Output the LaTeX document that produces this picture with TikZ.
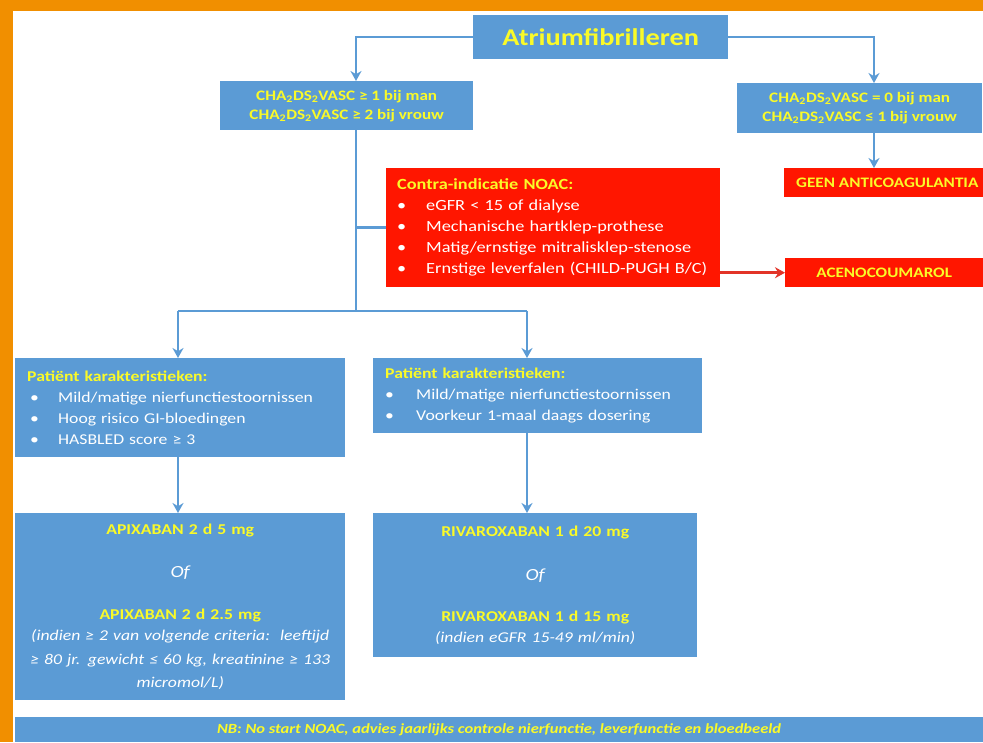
\documentclass[tikz,border=0pt]{standalone}
\usepackage{fontspec}
\setmainfont{Carlito}[FakeStretch=1.18]
\usetikzlibrary{positioning,arrows.meta}
\definecolor{FlowBlue}{RGB}{91,155,213}
\definecolor{FlowRed}{RGB}{255,22,0}
\definecolor{ArrowRed}{RGB}{226,52,40}
\definecolor{FlowYellow}{RGB}{250,250,40}
\definecolor{FrameOrange}{RGB}{241,143,0}
\newcommand{\bul}[2][29pt]{\makebox[#1][l]{\textbullet}#2}
\newcommand{\yel}[1]{{\color{FlowYellow}\bfseries #1}}
\newcommand{\ofword}{{\fontsize{17}{21}\itshape Of}}

\begin{document}
\begin{tikzpicture}[x=1pt,y=-1pt,
bx/.style={anchor=north west,fill=FlowBlue,inner xsep=12pt,inner ysep=0pt,text=white,font=\fontsize{15}{21}\selectfont},
rbx/.style={bx,fill=FlowRed},
ttl/.style={font=\fontsize{14.5}{19}\bfseries,text=FlowYellow,align=center},
con/.style={draw=FlowBlue,line width=2.5pt,-{Stealth[length=10pt,width=11pt]}},
ln/.style={draw=FlowBlue,line width=2.5pt}
]
\useasboundingbox (0,0) rectangle (983,742);
% frame
\fill[FrameOrange] (0,0) rectangle (983,11);
\fill[FrameOrange] (0,0) rectangle (13,742);
% top level
\node[bx,ttl,font=\fontsize{24}{28}\bfseries,minimum width=255,minimum height=44] (af) at (473,15) {Atriumfibrilleren};
\node[bx,ttl,minimum width=253,minimum height=49] (chal) at (220,81) {CHA\textsubscript{2}DS\textsubscript{2}VASC ≥ 1 bij man\\CHA\textsubscript{2}DS\textsubscript{2}VASC ≥ 2 bij vrouw};
\node[bx,ttl,minimum width=245,minimum height=50] (char) at (737,83) {CHA\textsubscript{2}DS\textsubscript{2}VASC = 0 bij man\\CHA\textsubscript{2}DS\textsubscript{2}VASC ≤ 1 bij vrouw};
\node[rbx,ttl,minimum width=199,minimum height=29] (geen) at (784,168) {GEEN ANTICOAGULANTIA};
% contra-indications
\node[rbx,text width=312,align=left,minimum height=119,inner xsep=11pt,font=\fontsize{15.5}{21}\selectfont] (contra) at (386,168) {\yel{Contra-indicatie NOAC:}\\
\bul{eGFR < 15 of dialyse}\\
\bul{Mechanische hartklep-prothese}\\
\bul{Matig/ernstige mitralisklep-stenose}\\
\bul{Ernstige leverfalen (CHILD-PUGH B/C)}};
\node[rbx,ttl,minimum width=198,minimum height=29] (aceno) at (785,258) {ACENOCOUMAROL};
% patient groups
\node[bx,text width=306,align=left,minimum height=99] (pl) at (15,358) {\yel{Patiënt karakteristieken:}\\
\hspace*{3pt}\bul[28pt]{Mild/matige nierfunctiestoornissen}\\
\hspace*{3pt}\bul[28pt]{Hoog risico GI-bloedingen}\\
\hspace*{3pt}\bul[28pt]{HASBLED score ≥ 3}};
\node[bx,text width=305,align=left,minimum height=75] (pr) at (373,358) {\yel{Patiënt karakteristieken:}\\
\bul[31pt]{Mild/matige nierfunctiestoornissen}\\
\bul[31pt]{Voorkeur 1-maal daags dosering}};
% drugs
\node[bx,text width=306,align=center,minimum height=187,font=\fontsize{15}{23.5}\selectfont] (apix) at (15,513) {\yel{APIXABAN 2 d 5 mg}\\[20pt]
\ofword\\[18pt]
\yel{APIXABAN 2 d 2.5 mg}\\[-2pt]
\textit{(indien ≥ 2 van volgende criteria:\ \ leeftijd}\\
\textit{≥ 80 jr. gewicht ≤ 60 kg, kreatinine ≥ 133}\\
\textit{micromol/L)}};
\node[bx,text width=300,align=center,minimum height=144,font=\fontsize{15}{21}\selectfont] (riva) at (373,513) {\yel{RIVAROXABAN 1 d 20 mg}\\[23pt]
\ofword\\[20pt]
\yel{RIVAROXABAN 1 d 15 mg}\\
\textit{(indien eGFR 15-49 ml/min)}};
\node[bx,minimum width=968,minimum height=25,font=\fontsize{14}{16}\bfseries\itshape,text=FlowYellow] (nb) at (15,717) {NB: No start NOAC, advies jaarlijks controle nierfunctie, leverfunctie en bloedbeeld};
% connectors
\coordinate (tr) at (356,311);
\coordinate (sl) at (178,311);
\coordinate (sr) at (527,311);
\coordinate (rx) at (874,36);
\draw[con] (af.west) -| (chal.north -| tr);
\draw[con] (af.east) -| (char.north -| rx);
\draw[con] (char.south -| rx) -- (geen.north -| rx);
\draw[ln] (chal.south -| tr) -- (tr);
\draw[ln] (tr |- contra.west) -- (contra.west);
\draw[ln] (sl) -- (sr);
\draw[con] (sl) -- (pl.north -| sl);
\draw[con] (sr) -- (pr.north -| sr);
\draw[con] (pl.south -| sl) -- (apix.north -| sl);
\draw[con] (pr.south -| sr) -- (riva.north -| sr);
\draw[draw=ArrowRed,line width=2.5pt,-{Stealth[length=10pt,width=11pt]}] (contra.east |- aceno.west) -- (aceno.west);
\end{tikzpicture}
\end{document}
